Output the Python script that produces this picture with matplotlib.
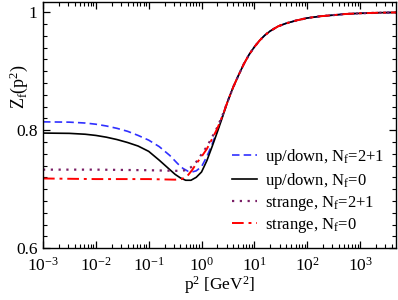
import numpy as np
import matplotlib
matplotlib.use("Agg")
import matplotlib.pyplot as plt
from matplotlib.ticker import FixedLocator, LogLocator, NullFormatter

plt.rcParams['font.family'] = ['Liberation Serif', 'DejaVu Serif']
plt.rcParams['mathtext.fontset'] = 'custom'
plt.rcParams['mathtext.rm'] = 'Liberation Serif'
plt.rcParams['mathtext.it'] = 'Liberation Serif:italic'

# common high-momentum tail: log10(p^2) and Z_f
tail_logp = [0.5, 0.6, 0.7, 0.8, 0.9, 1.0, 1.1, 1.2, 1.3, 1.45, 1.6, 1.8, 2.0, 2.25, 2.5, 2.75, 3.0, 3.35, 3.7]
tail_z = [0.850, 0.873, 0.893, 0.912, 0.928, 0.941, 0.952, 0.961, 0.968, 0.976, 0.981, 0.986, 0.990, 0.993, 0.995, 0.997, 0.998, 0.999, 0.9995]

# low-momentum parts per curve
ud21_logp = [-3.0, -2.5, -2.2, -2.0, -1.8, -1.6, -1.4, -1.2, -1.0, -0.8, -0.6, -0.45, -0.35, -0.25, -0.18, -0.1, 0.0, 0.1, 0.2, 0.3, 0.4]
ud21_z = [0.814, 0.8135, 0.812, 0.810, 0.807, 0.803, 0.798, 0.791, 0.783, 0.772, 0.757, 0.743, 0.735, 0.730, 0.729, 0.731, 0.738, 0.755, 0.776, 0.800, 0.825]

ud0_logp = [-3.0, -2.5, -2.2, -2.0, -1.8, -1.6, -1.4, -1.2, -1.0, -0.8, -0.65, -0.5, -0.4, -0.3, -0.2, -0.1, 0.0, 0.1, 0.2, 0.3, 0.4]
ud0_z = [0.795, 0.7945, 0.793, 0.791, 0.788, 0.784, 0.779, 0.773, 0.764, 0.749, 0.737, 0.725, 0.719, 0.715, 0.715, 0.720, 0.729, 0.748, 0.772, 0.797, 0.823]

s21_logp = [-3.0, -2.0, -1.0, -0.5, -0.4, -0.3, -0.2, -0.1, 0.0, 0.1, 0.2, 0.3, 0.4]
s21_z = [0.733, 0.733, 0.732, 0.731, 0.731, 0.732, 0.737, 0.746, 0.759, 0.772, 0.788, 0.805, 0.826]

s0_logp = [-3.0, -2.0, -1.0, -0.5, -0.38, -0.28, -0.18, -0.1, 0.0, 0.1, 0.2, 0.3, 0.4]
s0_z = [0.718, 0.717, 0.717, 0.716, 0.717, 0.721, 0.732, 0.743, 0.755, 0.768, 0.785, 0.803, 0.825]

labels = ["up/down, N$_\\mathrm{f}$=2+1", "up/down, N$_\\mathrm{f}$=0",
          "strange, N$_\\mathrm{f}$=2+1", "strange, N$_\\mathrm{f}$=0"]

def full(lp, z):
    return 10 ** np.array(list(lp) + tail_logp), np.array(list(z) + tail_z)

fig = plt.figure(figsize=(3.98, 3.0), dpi=100)
ax = fig.add_axes([0.108, 0.173, 0.887, 0.82])

x, y = full(ud21_logp, ud21_z)
ax.plot(x, y, color='#3030ff', ls=(0, (4.5, 2.5)), lw=1.2, label=labels[0])
x, y = full(ud0_logp, ud0_z)
ax.plot(x, y, color='black', ls='-', lw=1.2, label=labels[1])
x, y = full(s21_logp, s21_z)
ax.plot(x, y, color='#7a1f66', ls=(0, (1, 2.5)), lw=1.6, label=labels[2])
x, y = full(s0_logp, s0_z)
ax.plot(x, y, color='#ff0000', ls=(0, (6, 2.5, 1.5, 2.5)), lw=1.4, label=labels[3])

ax.set_xscale('log')
ax.set_xlim(1e-3, 10 ** 3.68)
ax.set_ylim(0.6, 1.017)

ax.yaxis.set_major_locator(FixedLocator([0.6, 0.8, 1.0]))
ax.set_yticklabels(["0.6", "0.8", "1"])
ax.yaxis.set_minor_locator(FixedLocator(np.arange(0.62, 1.01, 0.02)))
ax.xaxis.set_major_locator(FixedLocator([1e-3, 1e-2, 1e-1, 1, 10, 100, 1000]))
ax.set_xticklabels(["10$^{-3}$", "10$^{-2}$", "10$^{-1}$", "10$^{0}$", "10$^{1}$", "10$^{2}$", "10$^{3}$"])
ax.xaxis.set_minor_locator(LogLocator(base=10, subs=np.arange(2, 10), numticks=20))
ax.xaxis.set_minor_formatter(NullFormatter())

ax.tick_params(which='both', direction='in', top=True, right=True, labelsize=12.5)
ax.tick_params(axis='y', which='both', pad=4)
ax.tick_params(axis='x', which='both', pad=6)
ax.tick_params(which='major', length=5, width=0.9)
ax.tick_params(which='minor', length=3, width=0.8)
for s in ax.spines.values():
    s.set_linewidth(1.0)

ax.set_xlabel("p$^2$ [GeV$^2$]", fontsize=12.5, labelpad=0)
fig.text(0.048, 0.71, "Z$_\\mathrm{f}$(p$^2$)", fontsize=13, rotation=90, ha='center', va='center')

ax.legend(loc='lower right', frameon=False, fontsize=12, handlelength=1.5,
          handletextpad=0.5, labelspacing=0.2, borderaxespad=0.3,
          bbox_to_anchor=(1.0, 0.005))

fig.savefig("out.png", dpi=100)
